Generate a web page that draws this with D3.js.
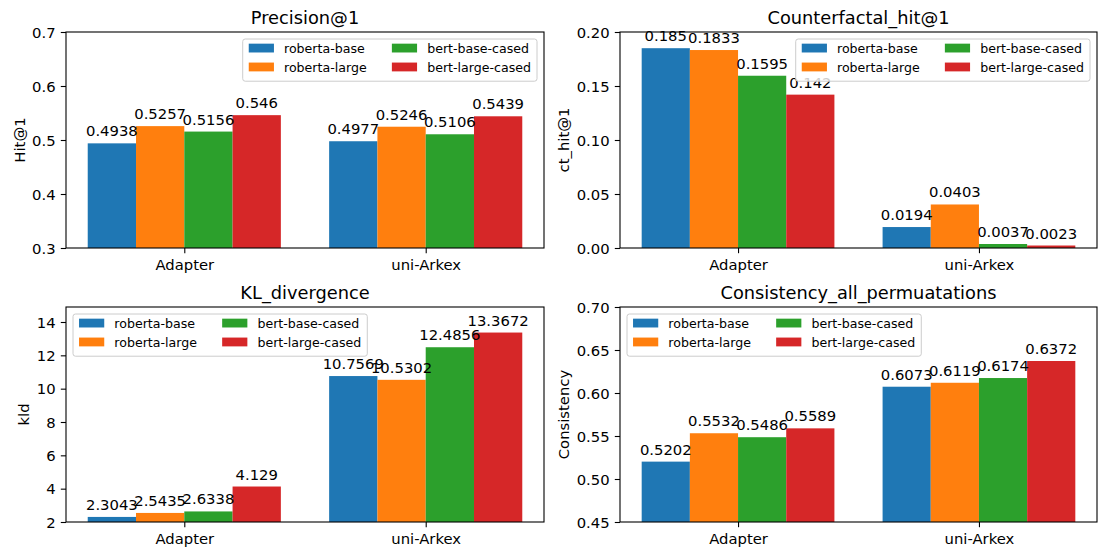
<!DOCTYPE html>
<html>
<head>
<meta charset="utf-8">
<script src="https://cdn.jsdelivr.net/npm/d3@7"></script>
<style>
  html, body { margin: 0; padding: 0; background: #ffffff; }
  svg { display: block; }
  text { font-family: "DejaVu Sans", sans-serif; fill: #000; }
</style>
</head>
<body>
<svg id="fig" width="1098" height="551"></svg>
<script>
// Evaluation results per model (first value: Adapter, second: uni-Arkex)
const categories = ["Adapter", "uni-Arkex"];
const models = ["roberta-base", "roberta-large", "bert-base-cased", "bert-large-cased"];
const colors = ["#1f77b4", "#ff7f0e", "#2ca02c", "#d62728"];

const precisionValues = [
  [0.4938, 0.4977],
  [0.5257, 0.5246],
  [0.5156, 0.5106],
  [0.546, 0.5439]
];
const ctHitValues = [
  [0.185, 0.0194],
  [0.1833, 0.0403],
  [0.1595, 0.0037],
  [0.142, 0.0023]
];
const kldValues = [
  [2.3043, 10.7569],
  [2.5435, 10.5302],
  [2.6338, 12.4856],
  [4.129, 13.3672]
];
const consistencyValues = [
  [0.5202, 0.6073],
  [0.5532, 0.6119],
  [0.5486, 0.6174],
  [0.5589, 0.6372]
];

const precisionTicks = [0.3, 0.4, 0.5, 0.6, 0.7];
const ctHitTicks = [0.00, 0.05, 0.10, 0.15, 0.20];
const kldTicks = [2, 4, 6, 8, 10, 12, 14];
const consistencyTicks = [0.45, 0.50, 0.55, 0.60, 0.65, 0.70];

const FS_TICK = 14.8, FS_TITLE = 17.8, FS_LEG = 12.6;
const TICK_LEN = 5.2, TICK_PAD = 5.2;

const panels = [
  { title: "Precision@1", ylabel: "Hit@1", values: precisionValues, ydom: [0.3, 0.7],
    ticks: precisionTicks, fmt: d3.format(".1f"), legend: "right",
    box: { x0: 66, x1: 544, y0: 32, y1: 248 } },
  { title: "Counterfactal_hit@1", ylabel: "ct_hit@1", values: ctHitValues, ydom: [0, 0.2],
    ticks: ctHitTicks, fmt: d3.format(".2f"), legend: "right",
    box: { x0: 620, x1: 1097, y0: 32, y1: 248 } },
  { title: "KL_divergence", ylabel: "kld", values: kldValues, ydom: [2, 14.9],
    ticks: kldTicks, fmt: d3.format("d"), legend: "left",
    box: { x0: 66, x1: 544, y0: 307, y1: 522 } },
  { title: "Consistency_all_permuatations", ylabel: "Consistency", values: consistencyValues, ydom: [0.45, 0.7],
    ticks: consistencyTicks, fmt: d3.format(".2f"), legend: "left",
    box: { x0: 620, x1: 1097, y0: 307, y1: 522 } }
];

const svg = d3.select("#fig");
const barW = 0.2;

panels.forEach(p => {
  const b = p.box;
  const g = svg.append("g");
  const x = d3.scaleLinear().domain([-0.49, 1.49]).range([b.x0, b.x1]);
  const y = d3.scaleLinear().domain(p.ydom).range([b.y1, b.y0]);

  // bars
  p.values.forEach((series, j) => {
    series.forEach((v, i) => {
      const cx = i + (j - 1.5) * barW;
      g.append("rect")
        .attr("x", x(cx - barW / 2))
        .attr("width", x(cx + barW / 2) - x(cx - barW / 2))
        .attr("y", y(v))
        .attr("height", y(p.ydom[0]) - y(v))
        .attr("fill", colors[j]);
    });
  });

  // value labels
  p.values.forEach((series, j) => {
    series.forEach((v, i) => {
      const cx = i + (j - 1.5) * barW;
      g.append("text")
        .attr("x", x(cx))
        .attr("y", y(v) - 7)
        .attr("text-anchor", "middle")
        .style("font-size", FS_TICK + "px")
        .text(String(v));
    });
  });

  // y axis
  const yAxis = d3.axisLeft(y).tickValues(p.ticks).tickFormat(p.fmt)
    .tickSize(TICK_LEN).tickPadding(TICK_PAD);
  const ya = g.append("g").attr("transform", `translate(${b.x0},0)`).call(yAxis);
  ya.select(".domain").remove();
  ya.selectAll("line").attr("stroke", "#000").attr("stroke-width", 1.1);
  ya.selectAll("text").style("font-size", FS_TICK + "px").attr("font-family", null).attr("dy", "0.36em");

  // x axis
  const xAxis = d3.axisBottom(x).tickValues([0, 1]).tickFormat(i => categories[i])
    .tickSize(TICK_LEN).tickPadding(TICK_PAD);
  const xa = g.append("g").attr("transform", `translate(0,${b.y1})`).call(xAxis);
  xa.select(".domain").remove();
  xa.selectAll("line").attr("stroke", "#000").attr("stroke-width", 1.1);
  xa.selectAll("text").style("font-size", FS_TICK + "px").attr("font-family", null).attr("dy", "0.8em");

  // frame
  g.append("rect")
    .attr("x", b.x0).attr("y", b.y0)
    .attr("width", b.x1 - b.x0).attr("height", b.y1 - b.y0)
    .attr("fill", "none").attr("stroke", "#000").attr("stroke-width", 1.1);

  // title
  g.append("text")
    .attr("x", (b.x0 + b.x1) / 2).attr("y", b.y0 - 8.5)
    .attr("text-anchor", "middle")
    .style("font-size", FS_TITLE + "px")
    .text(p.title);

  // y label, placed left of the widest tick label
  const tb = ya.node().getBBox();
  const lx = b.x0 + tb.x - 7.5;
  g.append("text")
    .attr("transform", `translate(${lx},${(b.y0 + b.y1) / 2}) rotate(-90)`)
    .attr("text-anchor", "middle")
    .style("font-size", FS_TICK + "px")
    .text(p.ylabel);

  // legend (2 columns)
  const fs = FS_LEG;
  const pad = 0.4 * fs, hl = 2.0 * fs, hh = 0.7 * fs, htp = 0.8 * fs, cs = 2.0 * fs;
  const rowStep = 1.5 * fs;
  const lg = g.append("g");
  const measure = s => {
    const t = lg.append("text").style("font-size", fs + "px").text(s);
    const w = t.node().getComputedTextLength();
    t.remove();
    return w;
  };
  const col1 = [models[0], models[1]], col2 = [models[2], models[3]];
  const w1 = d3.max(col1, measure), w2 = d3.max(col2, measure);
  const legW = pad * 2 + hl + htp + w1 + cs + hl + htp + w2 + 2;
  const legH = 3.35 * fs;
  const inset = 7;
  const lx0 = p.legend === "right" ? b.x1 - inset - legW : b.x0 + inset;
  const ly0 = b.y0 + inset;
  lg.append("rect")
    .attr("x", lx0).attr("y", ly0).attr("width", legW).attr("height", legH)
    .attr("rx", 0.2 * fs).attr("ry", 0.2 * fs)
    .attr("fill", "#ffffff").attr("fill-opacity", 0.8)
    .attr("stroke", "#cccccc").attr("stroke-width", 1);
  models.forEach((m, k) => {
    const col = Math.floor(k / 2), row = k % 2;
    const hx = lx0 + pad + 1 + (col === 0 ? 0 : hl + htp + w1 + cs);
    const cy = ly0 + 0.72 * fs + row * rowStep;
    lg.append("rect")
      .attr("x", hx).attr("y", cy - hh / 2)
      .attr("width", hl).attr("height", hh)
      .attr("fill", colors[k]);
    lg.append("text")
      .attr("x", hx + hl + htp).attr("y", cy)
      .attr("dy", "0.36em")
      .style("font-size", fs + "px")
      .text(m);
  });
});
</script>
</body>
</html>
